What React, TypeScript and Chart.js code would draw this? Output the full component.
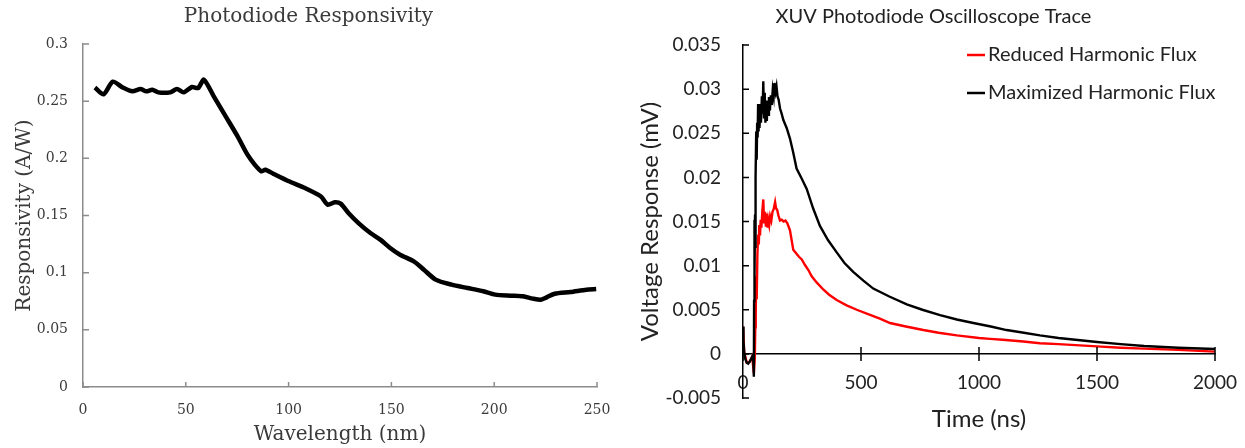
import React, { useEffect, useRef } from 'react';
import { Chart, registerables } from 'chart.js';

Chart.register(...registerables);

// ---------- Left chart: Photodiode Responsivity ----------
const wavelengthNm = [
  5.8, 10, 14.5, 19.3, 24, 28, 30.8, 33.7, 36.6, 42.4, 45.7, 49, 53, 56, 58.8,
  63.6, 69.4, 75.2, 80, 83.8, 86.7, 88.7, 92.5, 100.2, 108, 115.6, 119, 122.4,
  125.3, 129.1, 134, 139.8, 144.6, 149.4, 154.2, 160.9, 165.8, 171.5, 179.3, 187,
  194.7, 200.5, 208.2, 214, 218.8, 222.7, 225.5, 229.4, 237.1, 244.8, 249.6,
];
const responsivityAW = [
  0.262, 0.256, 0.267, 0.262, 0.2586, 0.2606, 0.2586, 0.26, 0.2577, 0.2577, 0.2606,
  0.2577, 0.2624, 0.2615, 0.2688, 0.2542, 0.2367, 0.2192, 0.2032, 0.1939, 0.1886,
  0.19, 0.1866, 0.1799, 0.174, 0.1668, 0.1595, 0.1615, 0.1604, 0.1522, 0.1434,
  0.1347, 0.1289, 0.1216, 0.1157, 0.1099, 0.1026, 0.0939, 0.0895, 0.0866, 0.0837,
  0.0808, 0.0799, 0.0793, 0.0773, 0.0764, 0.0784, 0.0816, 0.0831, 0.0851, 0.0857,
];
const leftXTickLabels = ['0', '50', '100', '150', '200', '250'];
const leftYTickLabels = ['0', '0.05', '0.1', '0.15', '0.2', '0.25', '0.3'];

// ---------- Right chart: XUV Photodiode Oscilloscope Trace ----------
const timeReducedNs = [
  0, 5, 16, 28, 39, 46, 50, 52, 54, 56, 58, 61, 64, 67, 69, 72, 75, 78, 82, 86,
  89, 93, 97, 100, 104, 107, 111, 115, 120, 125, 130, 136, 140, 145, 150, 157,
  164, 172, 180, 188, 199, 213, 225, 237, 249, 262, 277, 291, 312, 340, 365, 397,
  439, 482, 530, 580, 623, 690, 764, 829, 906, 1000, 1047, 1100, 1188, 1258,
  1337, 1500, 1600, 1700, 1844, 2000,
];
const reducedFluxMV = [
  0.0031, 0.0002, -0.001, -0.0009, -0.0003, -0.0022, -0.0005, 0.003, 0.0046,
  0.0088, 0.0062, 0.0112, 0.0135, 0.0124, 0.0146, 0.0134, 0.0152, 0.0143, 0.0162,
  0.0175, 0.0149, 0.0161, 0.0144, 0.0159, 0.0143, 0.0152, 0.0146, 0.0156, 0.0151,
  0.0161, 0.0164, 0.0172, 0.0165, 0.0163, 0.0157, 0.0151, 0.0152, 0.015, 0.0151,
  0.0148, 0.014, 0.0118, 0.0114, 0.011, 0.0107, 0.0101, 0.0095, 0.0088, 0.0081,
  0.0073, 0.0067, 0.0061, 0.0055, 0.005, 0.0045, 0.004, 0.0035, 0.0031, 0.0027,
  0.0024, 0.0021, 0.0018, 0.0017, 0.0016, 0.0014, 0.0012, 0.0011, 0.00085,
  0.0007, 0.0006, 0.00045, 0.00025,
];
const timeMaximizedNs = [
  0, 2, 5, 10, 16, 22, 28, 34, 39, 43, 46, 47, 48, 49.5, 51, 52.5, 54, 56, 58, 60,
  62, 64, 66, 68, 70, 73, 76, 80, 83, 86, 89, 92, 95, 98, 101, 104, 107, 110, 114,
  118, 122, 126, 130, 133, 138, 142, 146, 151, 157, 164, 171, 185, 199, 213, 227,
  248, 270, 297, 326, 360, 397, 430, 467, 510, 552, 620, 694, 760, 835, 906, 976,
  1050, 1117, 1190, 1258, 1337, 1500, 1600, 1700, 1844, 2000,
];
const maximizedFluxMV = [
  0.0031, 0.0015, 0.0002, -0.0006, -0.001, -0.0011, -0.0009, -0.0006, -0.0003,
  -0.0001, -0.0026, 0.006, 0.0152, 0.009, 0.0158, 0.012, 0.02, 0.0252, 0.022,
  0.0262, 0.0245, 0.0283, 0.0252, 0.0275, 0.0256, 0.0283, 0.0262, 0.0292, 0.0272,
  0.0309, 0.0268, 0.0296, 0.0262, 0.0287, 0.0264, 0.0286, 0.0271, 0.0291, 0.0276,
  0.0293, 0.0282, 0.0299, 0.0292, 0.0307, 0.0297, 0.0303, 0.0292, 0.0288, 0.0278,
  0.0272, 0.0265, 0.0256, 0.0244, 0.0228, 0.021, 0.0199, 0.0187, 0.0165, 0.0145,
  0.0129, 0.0115, 0.0103, 0.0093, 0.0083, 0.0074, 0.0065, 0.0056, 0.005, 0.0044,
  0.0039, 0.0035, 0.0031, 0.0027, 0.0024, 0.0021, 0.0018, 0.00135, 0.0011,
  0.0009, 0.0007, 0.00055,
];
const rightXTickLabels = ['0', '500', '1000', '1500', '2000'];
const rightYTickLabels = ['-0.005', '0', '0.005', '0.01', '0.015', '0.02', '0.025', '0.03', '0.035'];

// ---------- Plugins ----------
function tickMarksPlugin(cfg: {
  color: string; width: number; xUp: number; xDown: number; yIn: number; yOut: number; xAt?: number;
}) {
  return {
    id: 'tickMarks',
    afterDatasetsDraw(chart: any) {
      const { ctx, chartArea, scales } = chart;
      const xs = scales.x;
      const ys = scales.y;
      const xBase = cfg.xAt !== undefined ? ys.getPixelForValue(cfg.xAt) : chartArea.bottom;
      ctx.save();
      ctx.strokeStyle = cfg.color;
      ctx.lineWidth = cfg.width;
      ctx.beginPath();
      xs.ticks.forEach((t: any) => {
        const px = xs.getPixelForValue(t.value);
        ctx.moveTo(px, xBase - cfg.xUp);
        ctx.lineTo(px, xBase + cfg.xDown);
      });
      ys.ticks.forEach((t: any) => {
        const py = ys.getPixelForValue(t.value);
        ctx.moveTo(chartArea.left - cfg.yOut, py);
        ctx.lineTo(chartArea.left + cfg.yIn, py);
      });
      ctx.stroke();
      ctx.restore();
    },
  };
}

function titleShiftPlugin(dx: number) {
  return {
    id: 'titleShift',
    afterLayout(chart: any) {
      const t = chart.titleBlock;
      if (t) {
        t.left += dx;
        t.right += dx;
      }
    },
  };
}

const traceLegendPlugin = {
  id: 'traceLegend',
  afterDraw(chart: any) {
    const { ctx, chartArea } = chart;
    ctx.save();
    ctx.font = '20px Lato, sans-serif';
    ctx.textBaseline = 'middle';
    ctx.textAlign = 'left';
    chart.data.datasets.forEach((ds: any, row: number) => {
      const x = chartArea.left + 224;
      const y = chartArea.top + 10 + row * 38;
      ctx.strokeStyle = ds.borderColor;
      ctx.lineWidth = 2.5;
      ctx.beginPath();
      ctx.moveTo(x, y);
      ctx.lineTo(x + 18, y);
      ctx.stroke();
      ctx.fillStyle = '#222';
      ctx.fillText(ds.label, x + 21, y);
    });
    ctx.restore();
  },
};

const serif = "'DejaVu Serif', serif";
const sans = 'Lato, sans-serif';
const clear = 'rgba(0,0,0,0)';

export default function App() {
  const leftRef = useRef<HTMLCanvasElement>(null);
  const rightRef = useRef<HTMLCanvasElement>(null);

  useEffect(() => {
    const leftGrey = '#8c8c8c';
    const leftText = '#3a3a3a';
    const left = new Chart(leftRef.current as HTMLCanvasElement, {
      type: 'line',
      data: {
        datasets: [
          {
            label: 'Responsivity',
            data: wavelengthNm.map((x, i) => ({ x, y: responsivityAW[i] })),
            borderColor: '#000',
            borderWidth: 4.5,
            pointRadius: 0,
            tension: 0.25,
            fill: false,
          },
        ],
      },
      options: {
        responsive: false,
        animation: false,
        devicePixelRatio: 1,
        layout: { padding: { left: 0, right: 23, top: 0, bottom: 0 } },
        plugins: {
          legend: { display: false },
          tooltip: { enabled: false },
          title: {
            display: true,
            text: 'Photodiode Responsivity',
            font: { family: serif, size: 20, weight: 'normal' },
            color: leftText,
            padding: { top: 5, bottom: 15 },
          },
        },
        scales: {
          x: {
            type: 'linear',
            min: 0,
            max: 250,
            ticks: {
              stepSize: 50,
              autoSkip: false,
              maxRotation: 0,
              padding: 0,
              color: leftText,
              font: { family: serif, size: 14 },
              callback: (_v: any, i: number) => leftXTickLabels[i],
            },
            grid: { drawOnChartArea: false, drawTicks: true, tickLength: 15, tickColor: clear, color: leftGrey },
            border: { color: leftGrey, width: 1.5 },
            title: {
              display: true,
              text: 'Wavelength (nm)',
              color: leftText,
              font: { family: serif, size: 20 },
              padding: { top: 0, bottom: 1 },
            },
            afterFit: (s: any) => { s.height = 61; },
          },
          y: {
            type: 'linear',
            min: 0,
            max: 0.3,
            ticks: {
              stepSize: 0.05,
              autoSkip: false,
              padding: 15,
              color: leftText,
              font: { family: serif, size: 14 },
              callback: (_v: any, i: number) => leftYTickLabels[i],
            },
            grid: { drawOnChartArea: false, drawTicks: false, color: leftGrey },
            border: { color: leftGrey, width: 1.5 },
            title: {
              display: true,
              text: 'Responsivity (A/W)',
              color: leftText,
              font: { family: serif, size: 20 },
              padding: { top: 13, bottom: 0 },
            },
            afterFit: (s: any) => { s.width = 83; },
          },
        },
      } as any,
      plugins: [
        tickMarksPlugin({ color: leftGrey, width: 1.5, xUp: 5, xDown: 0, yIn: 6, yOut: 0 }),
        titleShiftPlugin(10),
      ],
    });

    const rightText = '#222';
    const right = new Chart(rightRef.current as HTMLCanvasElement, {
      type: 'line',
      data: {
        datasets: [
          {
            label: 'Reduced Harmonic Flux',
            data: timeReducedNs.map((x, i) => ({ x, y: reducedFluxMV[i] })),
            borderColor: '#ff0000',
            borderWidth: 2.4,
            pointRadius: 0,
            tension: 0,
            fill: false,
            order: 1,
          },
          {
            label: 'Maximized Harmonic Flux',
            data: timeMaximizedNs.map((x, i) => ({ x, y: maximizedFluxMV[i] })),
            borderColor: '#000000',
            borderWidth: 2.4,
            pointRadius: 0,
            tension: 0,
            fill: false,
            order: 0,
          },
        ],
      },
      options: {
        responsive: false,
        animation: false,
        devicePixelRatio: 1,
        layout: { padding: { left: 0, right: 30, top: 0, bottom: 50 } },
        plugins: {
          legend: { display: false },
          tooltip: { enabled: false },
          title: {
            display: true,
            text: 'XUV Photodiode Oscilloscope Trace',
            font: { family: sans, size: 20, weight: 'normal' },
            color: rightText,
            padding: { top: 5, bottom: 16 },
          },
        },
        scales: {
          x: {
            type: 'linear',
            position: { y: 0 },
            min: 0,
            max: 2000,
            ticks: {
              stepSize: 500,
              autoSkip: false,
              maxRotation: 0,
              padding: 0,
              color: rightText,
              font: { family: sans, size: 19 },
              callback: (_v: any, i: number) => rightXTickLabels[i],
            },
            grid: { drawOnChartArea: false, drawTicks: true, tickLength: 17.6, tickColor: clear, color: '#000' },
            border: { color: '#000', width: 1.5 },
            title: {
              display: true,
              text: 'Time (ns)',
              color: rightText,
              font: { family: sans, size: 24 },
              padding: { top: 0, bottom: 0 },
            },
            afterFit: (s: any) => { s.height = 80; },
          },
          y: {
            type: 'linear',
            min: -0.005,
            max: 0.035,
            ticks: {
              stepSize: 0.005,
              autoSkip: false,
              padding: 22,
              color: rightText,
              font: { family: sans, size: 19 },
              callback: (_v: any, i: number) => rightYTickLabels[i],
            },
            grid: { drawOnChartArea: false, drawTicks: false, color: '#000' },
            border: { color: '#000', width: 1.5 },
            title: {
              display: true,
              text: 'Voltage Response (mV)',
              color: rightText,
              font: { family: sans, size: 24 },
              padding: { top: 15.6, bottom: 0 },
            },
            afterFit: (s: any) => { s.width = 123; },
          },
        },
      } as any,
      plugins: [
        tickMarksPlugin({ color: '#000', width: 1.5, xUp: 7, xDown: 7, yIn: 6, yOut: 0, xAt: 0 }),
        titleShiftPlugin(16),
        traceLegendPlugin,
      ],
    });

    return () => {
      left.destroy();
      right.destroy();
    };
  }, []);

  return (
    <div style={{ position: 'absolute', left: 0, top: 0, width: 1245, height: 448, background: '#fff' }}>
      <canvas ref={leftRef} width={620} height={448} style={{ position: 'absolute', left: 0, top: 0 }} />
      <canvas ref={rightRef} width={625} height={448} style={{ position: 'absolute', left: 620, top: 0 }} />
    </div>
  );
}
